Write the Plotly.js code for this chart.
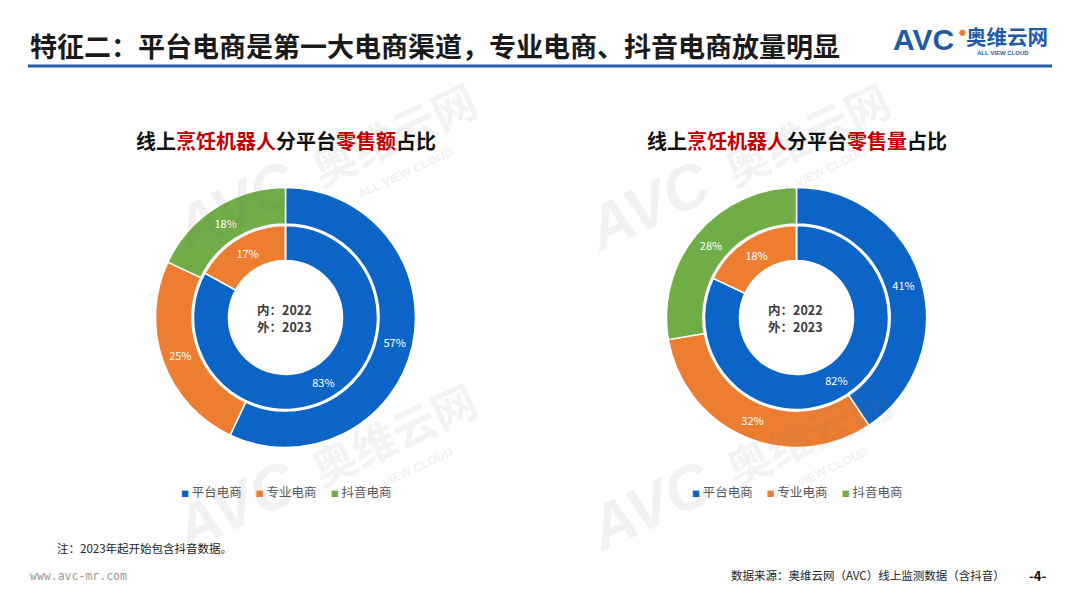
<!DOCTYPE html>
<html><head><meta charset="utf-8">
<script src="https://cdn.plot.ly/plotly-3.0.1.min.js"></script>
<style>html,body{margin:0;padding:0;background:#fff}#chart{width:1080px;height:608px}</style>
</head><body><div id="chart"></div>
<script>
const platforms = ['平台电商', '专业电商', '抖音电商'];
const colors = ['#0B64C6', '#ED7D31', '#70AD47'];
const amountShare2022 = [83, 17, 0];
const amountShare2023 = [57, 25, 18];
const volumeShare2022 = [82, 18, 0];
const volumeShare2023 = [41, 32, 28];
const chartTitles = [
  '线上<span style="color:#C00000">烹饪机器人</span>分平台<span style="color:#C00000">零售额</span>占比',
  '线上<span style="color:#C00000">烹饪机器人</span>分平台<span style="color:#C00000">零售量</span>占比'
];
const centerLines = ['内：2022', '外：2023'];

const W = 1080, H = 608;
const FONT = '"Noto Sans CJK SC", "Noto Sans", sans-serif';
function dom(cx, cy, r) {
  return { x: [(cx - r) / W, (cx + r) / W], y: [(H - cy - r) / H, (H - cy + r) / H] };
}
function px(x) { return x / W; }
function py(y) { return 1 - y / H; }

function ring(values, cx, cy, r, hole) {
  return {
    type: 'pie', values: values, labels: platforms,
    text: values.map(v => v > 0 ? v + '%' : ''),
    textinfo: 'text', textposition: 'inside', insidetextorientation: 'horizontal',
    sort: false, direction: 'clockwise', rotation: 0, hole: hole,
    domain: dom(cx, cy, r),
    marker: { colors: colors, line: { color: '#ffffff', width: 1.5 } },
    textfont: { color: '#ffffff', size: 11, family: FONT },
    hoverinfo: 'skip', showlegend: false
  };
}

const centers = [[285.5, 317.5], [796.5, 317.5]];
const R_OUT = 130, R_IN = 92;
const data = [
  ring(amountShare2023, centers[0][0], centers[0][1], R_OUT, 0.72),
  ring(amountShare2022, centers[0][0], centers[0][1], R_IN, 0.62),
  ring(volumeShare2023, centers[1][0], centers[1][1], R_OUT, 0.72),
  ring(volumeShare2022, centers[1][0], centers[1][1], R_IN, 0.62)
];

const annotations = [];
const shapes = [];

function note(x, y, text, font, opts) {
  annotations.push(Object.assign({ xref: 'paper', yref: 'paper', x: px(x), y: py(y), xanchor: 'center', yanchor: 'middle',
    showarrow: false, text: text, font: font }, opts || {}));
}

// watermarks
const WM = 'rgba(120,120,120,0.10)';
function watermark(x, y) {
  note(x, y, '<b><i>AVC</i></b>', { size: 62, family: 'Liberation Sans, Arial', color: WM }, { textangle: -25 });
  note(x + 158, y - 72, '<b>奥维云网</b>', { size: 44, family: FONT, color: WM }, { textangle: -25 });
  note(x + 170, y - 32, '<b>ALL VIEW CLOUD</b>', { size: 12, family: 'Liberation Sans, Arial', color: 'rgba(120,120,120,0.12)' }, { textangle: -25 });
}
watermark(235, 205); watermark(235, 505); watermark(648, 205); watermark(650, 505);

// header
note(28, 45, '<b>特征二：平台电商是第一大电商渠道，专业电商、抖音电商放量明显</b>',
  { size: 27, family: FONT, color: '#1a1a1a' }, { xanchor: 'left' });
shapes.push({ type: 'line', xref: 'paper', yref: 'paper', x0: px(28), x1: px(1052), y0: py(66), y1: py(66), line: { color: '#1F5FA8', width: 3 } });
// logo
note(891, 40, '<b>AVC</b>', { size: 30, family: 'Liberation Sans, Arial', color: '#1E5BA8' }, { xanchor: 'left' });
note(957, 32, '●', { size: 7, family: FONT, color: '#ED7D31' }, { xanchor: 'left' });
note(964, 36, '<b>奥维云网</b>', { size: 20.5, family: FONT, color: '#1E5BA8' }, { xanchor: 'left' });
note(975, 53, '<b>ALL VIEW CLOUD</b>', { size: 6, family: 'Liberation Sans, Arial', color: '#1E5BA8' }, { xanchor: 'left' });

// chart titles, center labels, legends
centers.forEach((c, i) => {
  note(c[0], 140, '<b>' + chartTitles[i] + '</b>', { size: 20, family: FONT, color: '#111111' });
  note(c[0] - 1, c[1] - 8.5, '<b>' + centerLines[0] + '</b>', { size: 12.5, family: FONT, color: '#3a3a3a' });
  note(c[0] - 1, c[1] + 8.5, '<b>' + centerLines[1] + '</b>', { size: 12.5, family: FONT, color: '#3a3a3a' });
  const legendText = platforms.map((p, k) =>
    '<span style="color:' + colors[k] + ';font-size:8px">■</span> ' + p).join('     ');
  note(c[0], 491, legendText, { size: 12.5, family: FONT, color: '#595959' });
});

// footer
note(55, 548, '注：2023年起开始包含抖音数据。', { size: 11.5, family: FONT, color: '#222222' }, { xanchor: 'left' });
note(28, 576, 'www.avc-mr.com', { size: 11.5, family: 'DejaVu Sans Mono, monospace', color: '#9a9a9a' }, { xanchor: 'left' });
note(1007, 575, '数据来源：奥维云网（AVC）线上监测数据（含抖音）', { size: 11.5, family: FONT, color: '#222222' }, { xanchor: 'right' });
note(1037, 575, '<b>-4-</b>', { size: 13, family: FONT, color: '#111111' });

const layout = {
  width: W, height: H, margin: { l: 0, r: 0, t: 0, b: 0 },
  paper_bgcolor: '#ffffff', plot_bgcolor: '#ffffff',
  showlegend: false, annotations: annotations, shapes: shapes,
  font: { family: FONT }
};
Plotly.newPlot('chart', data, layout, { displayModeBar: false, staticPlot: true });
</script>
</body></html>
